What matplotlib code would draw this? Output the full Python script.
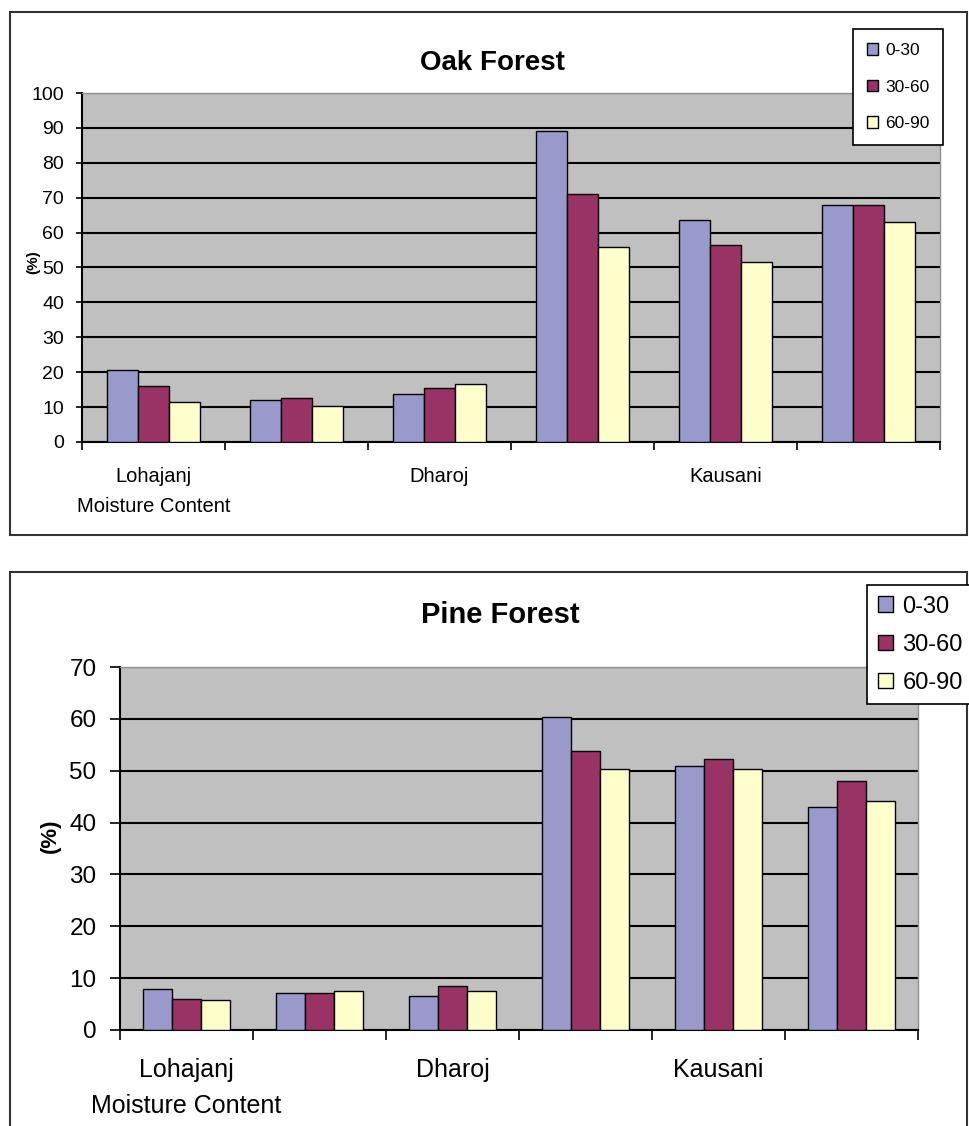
import matplotlib.pyplot as plt
from matplotlib.patches import Rectangle
import numpy as np

'''
Soil moisture content by depth: Oak and Pine forests
'''

depths = ['0-30', '30-60', '60-90']
site_labels = ['Lohajanj', '', 'Dharoj', '', 'Kausani', '']

oak_0_30 = [20.7, 12.0, 13.8, 89.0, 63.5, 68.0]
oak_30_60 = [16.0, 12.7, 15.5, 71.0, 56.5, 68.0]
oak_60_90 = [11.5, 10.3, 16.6, 56.0, 51.5, 63.0]

pine_0_30 = [8.0, 7.2, 6.5, 60.4, 51.0, 43.0]
pine_30_60 = [6.0, 7.2, 8.4, 53.8, 52.2, 48.0]
pine_60_90 = [5.7, 7.6, 7.6, 50.3, 50.3, 44.2]

colors = ['#9999CC', '#993366', '#FFFFCC']
W, H = 969, 1126

plt.rcParams['font.family'] = ['Liberation Sans', 'DejaVu Sans']


def fx(px):
    return px / W


def fy(py):
    return 1 - py / H


def draw_chart(fig, rect, series, title, ymax, st):
    x0, y0, x1, y1 = rect
    ax = fig.add_axes([fx(x0), fy(y1), fx(x1) - fx(x0), fy(y0) - fy(y1)])
    ax.set_facecolor('#C0C0C0')
    n = len(series[0])
    centers = np.arange(n) + 0.5
    bw = 0.218
    for i, vals in enumerate(series):
        ax.bar(centers + (i - 1) * bw, vals, width=bw, color=colors[i],
               edgecolor='black', linewidth=1.0, label=depths[i], zorder=3)
    ax.set_xlim(0, n)
    ax.set_ylim(0, ymax)
    ax.set_yticks(np.arange(0, ymax + 1, 10))
    ax.yaxis.grid(True, color='black', linewidth=1.5, zorder=1)
    ax.set_xticks(np.arange(n + 1))
    ax.set_xticklabels([])
    ax.tick_params(axis='x', length=st['xtick'], width=1.2, direction='out')
    ax.tick_params(axis='y', length=st['ytick'], width=1.2, labelsize=st['tick_fs'],
                   pad=st['ypad'])
    for s in ['left', 'bottom']:
        ax.spines[s].set_linewidth(1.5)
        ax.spines[s].set_color('black')
    for s in ['top', 'right']:
        ax.spines[s].set_color('#909090')
        ax.spines[s].set_linewidth(1.0)

    # site names under groups, axis title under the first one
    gw = (x1 - x0) / n
    for i, lab in enumerate(site_labels):
        if lab:
            fig.text(fx(x0 + gw * (i + 0.5)), fy(st['site_base']), lab,
                     ha='center', va='baseline', fontsize=st['fs'])
    fig.text(fx(x0 + gw / 2), fy(st['moist_base']), 'Moisture Content',
             ha='center', va='baseline', fontsize=st['fs'])
    fig.text(fx(st['ylab'][0]), fy(st['ylab'][1]), '(%)', rotation=90, ha='center',
             va='center', fontsize=st['ylab_fs'], fontweight='bold')
    fig.text(fx(st['title'][0]), fy(st['title'][1]), title, ha='center', va='center',
             fontsize=st['title_fs'], fontweight='bold')

    lx, ly = st['legend']
    leg = fig.legend(*ax.get_legend_handles_labels(), loc='upper left',
                     bbox_to_anchor=(fx(lx), fy(ly)), fontsize=st['leg_fs'],
                     handlelength=0.65, handleheight=0.65, handletextpad=0.4,
                     labelspacing=st['leg_space'], borderpad=st['leg_pad'],
                     borderaxespad=0, fancybox=False, framealpha=1, edgecolor='black')
    leg.get_frame().set_linewidth(1.2)
    return ax


fig = plt.figure(figsize=(W / 100, H / 100), dpi=100)

fig.add_artist(Rectangle((fx(10), fy(535)), fx(967) - fx(10), fy(12) - fy(535),
                         transform=fig.transFigure, fill=False, edgecolor='#333333', linewidth=1.5))
fig.add_artist(Rectangle((fx(10), fy(1130)), fx(967) - fx(10), fy(572) - fy(1130),
                         transform=fig.transFigure, fill=False, edgecolor='#333333', linewidth=1.5))

oak_style = dict(fs=14.5, tick_fs=14, xtick=6, ytick=4, ypad=9,
                 site_base=482, moist_base=512, ylab=(33, 262), ylab_fs=11,
                 title=(492, 63), title_fs=20, legend=(853, 29), leg_fs=12.5,
                 leg_space=1.25, leg_pad=0.8)
pine_style = dict(fs=18, tick_fs=17.5, xtick=7, ytick=7, ypad=10,
                  site_base=1077, moist_base=1113, ylab=(50, 836), ylab_fs=16,
                  title=(500, 615), title_fs=21, legend=(867, 585), leg_fs=17,
                  leg_space=0.68, leg_pad=0.45)

draw_chart(fig, (82, 93, 940, 442), [oak_0_30, oak_30_60, oak_60_90], 'Oak Forest',
           100, oak_style)
draw_chart(fig, (120, 667, 918, 1030), [pine_0_30, pine_30_60, pine_60_90], 'Pine Forest',
           70, pine_style)

fig.savefig('out.png', dpi=100)
